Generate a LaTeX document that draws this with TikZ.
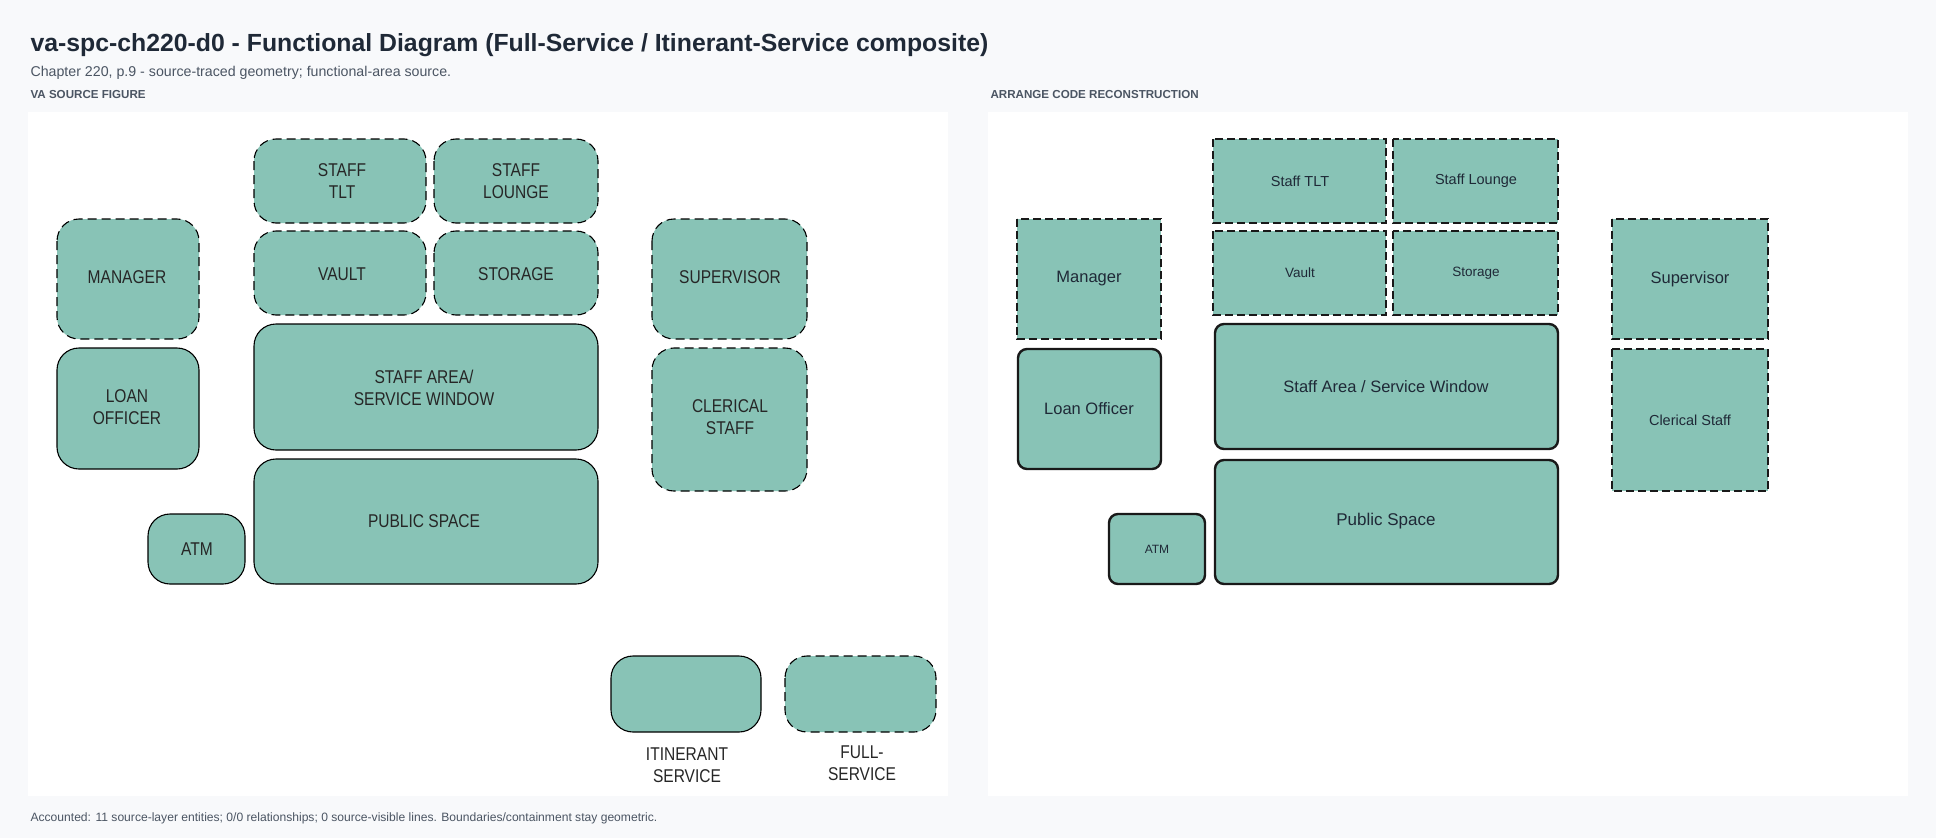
\documentclass[tikz,border=0pt]{standalone}
\usepackage{fontspec}
\setmainfont{Liberation Sans}
\begin{document}
\definecolor{bg}{HTML}{F8F9FB}
\definecolor{rm}{HTML}{88C3B6}
\definecolor{tx}{HTML}{1F2937}
\definecolor{sub}{HTML}{4B5563}
\begin{tikzpicture}[x=1pt,y=-1pt,
 L/.style={fill=rm,draw=black,line width=1.1pt,rounded corners=22pt},
 Ld/.style={L,dash pattern=on 9pt off 5pt},
 R/.style={fill=rm,draw=black!90,line width=2.4pt,rounded corners=9pt},
 Rd/.style={fill=rm,draw=black!90,line width=2.4pt,dash pattern=on 8pt off 4pt},
 lt/.style={font=\fontsize{18.5}{21.5}\selectfont,text=black!85,align=center,xscale=.84},
 rt/.style={font=\fontsize{16}{19}\selectfont,text=tx,align=center},
]
\fill[bg] (0,0) rectangle (1936,838);
\useasboundingbox (0,0) rectangle (1936,838);
\node[anchor=base west,font=\bfseries\fontsize{24.8}{28}\selectfont,text=tx] (title) at (27,51) {va-spc-ch220-d0 - Functional Diagram (Full-Service / Itinerant-Service composite)};
\node[anchor=base west,font=\fontsize{14.2}{16}\selectfont,text=sub] (subt) at (27,76) {Chapter 220, p.9 - source-traced geometry; functional-area source.};
\node[anchor=base west,font=\bfseries\fontsize{11.6}{13}\selectfont,text=sub] (h1) at (27,98) {VA SOURCE FIGURE};
\node[anchor=base west,font=\bfseries\fontsize{11.6}{13}\selectfont,text=sub] (h2) at (987,98) {ARRANGE CODE RECONSTRUCTION};
\node[anchor=base west,font=\fontsize{12.1}{13}\selectfont,text=sub] (foot) at (27,821) {Accounted: 11 source-layer entities; 0/0 relationships; 0 source-visible lines. Boundaries/containment stay geometric.};
\fill[white] (28,112) rectangle (948,796);
\fill[white] (988,112) rectangle (1908,796);
% left
\draw[Ld] (254,139) rectangle (426,223); \node[lt] (a1) at (342,181) {STAFF\\TLT};
\draw[Ld] (434,139) rectangle (598,223); \node[lt] (a2) at (516,181) {STAFF\\LOUNGE};
\draw[Ld] (57,219) rectangle (199,339); \node[lt] (a3) at (127,277) {MANAGER};
\draw[Ld] (254,231) rectangle (426,315); \node[lt] (a4) at (342,274) {VAULT};
\draw[Ld] (434,231) rectangle (598,315); \node[lt] (a5) at (516,274) {STORAGE};
\draw[Ld] (652,219) rectangle (807,339); \node[lt] (a6) at (730,277) {SUPERVISOR};
\draw[L] (254,324) rectangle (598,450); \node[lt] (a7) at (424,388) {STAFF AREA/\\SERVICE WINDOW};
\draw[L] (57,348) rectangle (199,469); \node[lt] (a8) at (127,407) {LOAN\\OFFICER};
\draw[Ld] (652,348) rectangle (807,491); \node[lt] (a9) at (730,417) {CLERICAL\\STAFF};
\draw[L] (148,514) rectangle (245,584); \node[lt] (a10) at (197,549) {ATM};
\draw[L] (254,459) rectangle (598,584); \node[lt] (a11) at (424,521) {PUBLIC SPACE};
\draw[L] (611,656) rectangle (761,732); \node[lt] (a12) at (687,765) {ITINERANT\\SERVICE};
\draw[Ld] (785,656) rectangle (936,732); \node[lt] (a13) at (862,763) {FULL-\\SERVICE};
% right
\draw[Rd] (1213,139) rectangle (1386,223); \node[rt,font=\fontsize{14.5}{17}\selectfont] (b1) at (1300,181) {Staff TLT};
\draw[Rd] (1393,139) rectangle (1558,223); \node[rt,font=\fontsize{14.5}{17}\selectfont] (b2) at (1476,181) {Staff Lounge};
\draw[Rd] (1017,219) rectangle (1161,339); \node[rt,font=\fontsize{16.5}{19}\selectfont] (b3) at (1089,279) {Manager};
\draw[Rd] (1213,231) rectangle (1386,315); \node[rt,font=\fontsize{13.5}{16}\selectfont] (b4) at (1300,273) {Vault};
\draw[Rd] (1393,231) rectangle (1558,315); \node[rt,font=\fontsize{13.5}{16}\selectfont] (b5) at (1476,273) {Storage};
\draw[Rd] (1612,219) rectangle (1768,339); \node[rt,font=\fontsize{16.5}{19}\selectfont] (b6) at (1690,279) {Supervisor};
\draw[R] (1215,324) rectangle (1558,449); \node[rt,font=\fontsize{16.5}{19}\selectfont] (b7) at (1386,387) {Staff Area / Service Window};
\draw[R] (1018,349) rectangle (1161,469); \node[rt,font=\fontsize{16.5}{19}\selectfont] (b8) at (1089,409) {Loan Officer};
\draw[Rd] (1612,349) rectangle (1768,491); \node[rt,font=\fontsize{14.5}{17}\selectfont] (b9) at (1690,420) {Clerical Staff};
\draw[R] (1109,514) rectangle (1205,584); \node[rt,font=\fontsize{12}{14}\selectfont] (b10) at (1157,549) {ATM};
\draw[R] (1215,460) rectangle (1558,584); \node[rt,font=\fontsize{17}{20}\selectfont] (b11) at (1386,521) {Public Space};
\end{tikzpicture}
\end{document}
